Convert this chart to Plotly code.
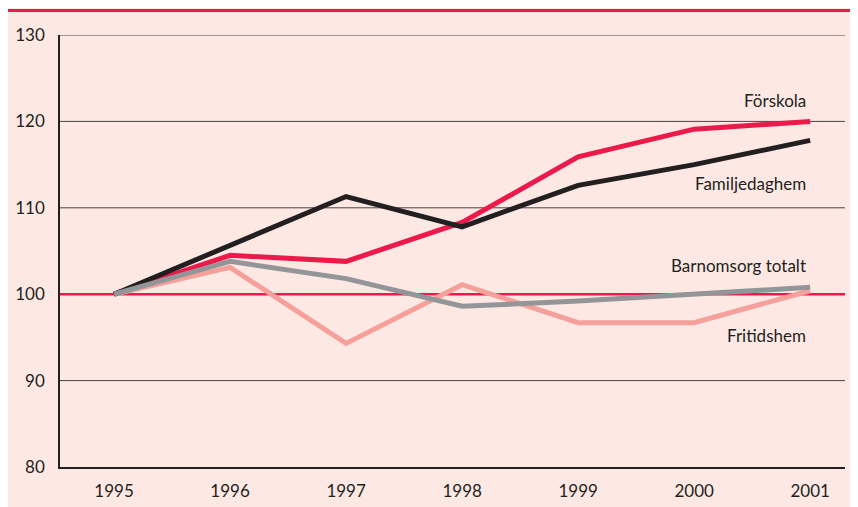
import plotly.graph_objects as go

years = [1995, 1996, 1997, 1998, 1999, 2000, 2001]
forskola = [100, 104.5, 103.8, 108.3, 115.9, 119.1, 120.0]
familjedaghem = [100, 105.7, 111.3, 107.8, 112.6, 115.0, 117.8]
barnomsorg_totalt = [100, 103.8, 101.8, 98.6, 99.2, 100.0, 100.8]
fritidshem = [100, 103.1, 94.3, 101.1, 96.7, 96.7, 100.4]
y_ticks = [80, 90, 100, 110, 120, 130]
grid_lines = [90, 110, 120, 130]

RED = "#ec1a4b"
BLACK = "#231f20"
GREY = "#939598"
SALMON = "#f5a09a"
PINK = "#fde8e4"

# the page puts the figure 8px in from the top-left corner
OFF = 8
W, H = 858 - OFF, 507 - OFF
ML, MR, MT, MB = 60 - OFF, 13, 35 - OFF, 40

fig = go.Figure()

# order matters: later traces drawn on top
fig.add_trace(go.Scatter(x=years, y=fritidshem, mode="lines", name="Fritidshem",
                         line=dict(color=SALMON, width=5)))
fig.add_trace(go.Scatter(x=years, y=forskola, mode="lines", name="Förskola",
                         line=dict(color=RED, width=5)))
fig.add_trace(go.Scatter(x=years, y=familjedaghem, mode="lines", name="Familjedaghem",
                         line=dict(color=BLACK, width=5)))
fig.add_trace(go.Scatter(x=years, y=barnomsorg_totalt, mode="lines", name="Barnomsorg totalt",
                         line=dict(color=GREY, width=5)))

# gridlines and the red reference line at 100, all under the data
for g in grid_lines:
    fig.add_hline(y=g, line_color="#4a4244", line_width=1, layer="below")
fig.add_hline(y=100, line_color=RED, line_width=2.5, layer="below")


def px_x(p):
    return (p - OFF - ML) / (W - ML - MR)


def px_y(p):
    return 1 - (p - OFF - MT) / (H - MT - MB)


# top red rule
fig.add_shape(type="line", xref="paper", yref="paper",
              x0=px_x(0), x1=px_x(870), y0=px_y(10.5), y1=px_y(10.5),
              line=dict(color=RED, width=3))

labels = [
    ("Förskola", 100),
    ("Familjedaghem", 183),
    ("Barnomsorg totalt", 265),
    ("Fritidshem", 335),
]
for text, ypx in labels:
    fig.add_annotation(text=text, xref="paper", yref="paper",
                       x=px_x(808), y=px_y(ypx), xanchor="right", yanchor="middle",
                       showarrow=False, font=dict(size=17, color=BLACK))

fig.update_xaxes(range=[1994.534, 2001.30], tickvals=years, showgrid=False,
                 showline=True, linecolor=BLACK, linewidth=1.5, ticks="",
                 tickfont=dict(size=17, color=BLACK), zeroline=False,
                 ticklabelstandoff=8, automargin=False)
fig.update_yaxes(range=[80, 130], tickvals=y_ticks, showgrid=False,
                 showline=True, linecolor=BLACK, linewidth=1.5, ticks="",
                 tickfont=dict(size=17, color=BLACK), zeroline=False,
                 ticklabelstandoff=10, automargin=False)

fig.update_layout(
    width=W, height=H,
    margin=dict(l=ML, r=MR, t=MT, b=MB),
    paper_bgcolor=PINK,
    plot_bgcolor="rgba(0,0,0,0)",
    showlegend=False,
    font=dict(family="Lato, 'Open Sans', sans-serif", color=BLACK),
)

fig.write_html("out.html")
